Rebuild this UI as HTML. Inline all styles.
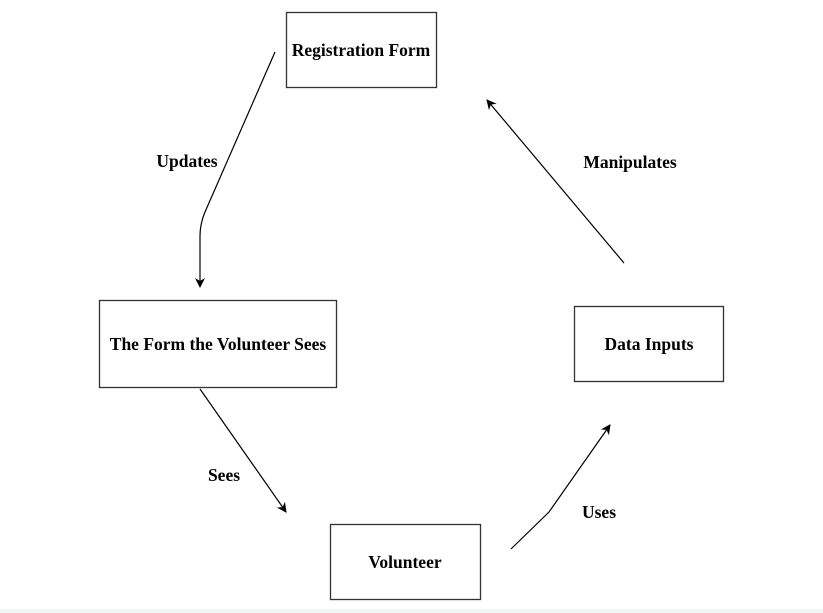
<!DOCTYPE html>
<html><head><style>
body{margin:0;width:823px;height:613px;background:#fff;overflow:hidden;position:relative}
svg{position:absolute;left:0;top:0}
text{font-family:"Liberation Serif",serif;font-weight:bold;font-size:17.5px;fill:#000}
</style></head><body>
<svg width="823" height="613" viewBox="0 0 823 613">
<defs><marker id="a" markerWidth="10" markerHeight="10" refX="9" refY="5" orient="auto" markerUnits="userSpaceOnUse"><path d="M0,0 L10,5 L0,10 L3,5 z" fill="#000"/></marker></defs>
<rect x="0" y="609" width="823" height="4" fill="#f3f5f5"/>
<g fill="#fff" stroke="#333" stroke-width="1.3">
<rect x="286.5" y="12.5" width="150" height="75"/>
<rect x="99.5" y="300.5" width="237" height="87"/>
<rect x="574.5" y="306.5" width="149" height="75"/>
<rect x="330.5" y="524.5" width="150" height="75"/>
</g>
<g fill="none" stroke="#000" stroke-width="1.2" marker-end="url(#a)">
<path d="M275,52 L205,212 Q200,224 200,236 L200,287"/>
<path d="M200,389 L286,512"/>
<path d="M511,549 L549,512 L610,425"/>
<path d="M624,263 L487,100"/>
</g>
<text x="361" y="56" text-anchor="middle">Registration Form</text>
<text x="218" y="350" text-anchor="middle">The Form the Volunteer Sees</text>
<text x="649" y="350" text-anchor="middle">Data Inputs</text>
<text x="405" y="568" text-anchor="middle">Volunteer</text>
<text x="187" y="167" text-anchor="middle">Updates</text>
<text x="630" y="168" text-anchor="middle">Manipulates</text>
<text x="224" y="481" text-anchor="middle">Sees</text>
<text x="599" y="518" text-anchor="middle">Uses</text>
</svg>
</body></html>
